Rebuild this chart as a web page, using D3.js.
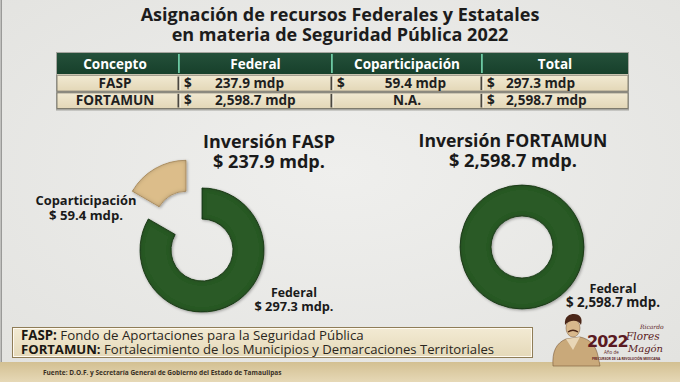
<!DOCTYPE html>
<html><head><meta charset="utf-8">
<script src="https://cdn.jsdelivr.net/npm/d3@7"></script>
<style>html,body{margin:0;padding:0;background:#e9e9e7;}svg{display:block;}</style>
</head><body>
<script>
// ---------- DATA ----------
const titleLines = ["Asignación de recursos Federales y Estatales", "en materia de Seguridad Pública 2022"];
const tableHeaders = ["Concepto", "Federal", "Coparticipación", "Total"];
const concepts = ["FASP", "FORTAMUN"];
const federalCol = ["237.9 mdp", "2,598.7 mdp"];
const copartCol = ["59.4 mdp", "N.A."];
const totalCol = ["297.3 mdp", "2,598.7 mdp"];
const faspParts = ["Federal", "Coparticipación"];
const faspValues = [297.3, 59.4];
const faspLabels = [["Federal", "$ 297.3 mdp."], ["Coparticipación", "$ 59.4 mdp."]];
const fortamunParts = ["Federal"];
const fortamunValues = [2598.7];
const fortamunLabels = [["Federal", "$ 2,598.7  mdp."]];
const donutTitles = [["Inversión FASP", "$ 237.9 mdp."], ["Inversión FORTAMUN", "$ 2,598.7 mdp."]];
const legendItems = [["FASP:", " Fondo de Aportaciones para la Seguridad Pública"],
                     ["FORTAMUN:", " Fortalecimiento de los Municipios y Demarcaciones Territoriales"]];
const sourceText = "Fuente: D.O.F. y Secretaría General de Gobierno del Estado de Tamaulipas";

// ---------- SETUP ----------
const W = 680, H = 382;
const FONT = "'Open Sans', 'Noto Sans', sans-serif";
const svg = d3.select("body").append("svg").attr("width", W).attr("height", H)
  .style("font-family", FONT);
const defs = svg.append("defs");

const bg = defs.append("radialGradient").attr("id", "bg").attr("cx", "50%").attr("cy", "45%").attr("r", "70%");
bg.append("stop").attr("offset", "0%").attr("stop-color", "#efefed");
bg.append("stop").attr("offset", "100%").attr("stop-color", "#e3e3e0");
svg.append("rect").attr("width", W).attr("height", H).attr("fill", "url(#bg)");
svg.append("rect").attr("x", 0.5).attr("y", 0).attr("width", 1.5).attr("height", H).attr("fill", "#9a9a98");

// bevel filter
const f = defs.append("filter").attr("id", "bevel").attr("x", "-20%").attr("y", "-20%").attr("width", "140%").attr("height", "140%");
f.append("feGaussianBlur").attr("in", "SourceAlpha").attr("stdDeviation", 2.2).attr("result", "blur");
f.append("feComposite").attr("in", "SourceAlpha").attr("in2", "blur").attr("operator", "arithmetic")
  .attr("k2", 1).attr("k3", -1).attr("result", "edge");
f.append("feFlood").attr("flood-color", "#000").attr("flood-opacity", 0.55).attr("result", "col");
f.append("feComposite").attr("in", "col").attr("in2", "edge").attr("operator", "in").attr("result", "shadow");
f.append("feGaussianBlur").attr("in", "SourceAlpha").attr("stdDeviation", 1.5).attr("result", "ds");
f.append("feOffset").attr("in", "ds").attr("dx", 0.5).attr("dy", 1).attr("result", "dso");
f.append("feComponentTransfer").attr("in", "dso").attr("result", "dsf")
  .append("feFuncA").attr("type", "linear").attr("slope", 0.35);
const fm = f.append("feMerge");
fm.append("feMergeNode").attr("in", "dsf");
fm.append("feMergeNode").attr("in", "SourceGraphic");
fm.append("feMergeNode").attr("in", "shadow");

function fit(sel, width) {
  const fs = parseFloat(sel.attr("font-size"));
  const w = sel.node().getComputedTextLength();
  if (w > 0) sel.attr("font-size", (fs * width / w).toFixed(2));
  return sel;
}

// multi-line text block: one <text>, one <tspan> per line
function block(x, y, lines, widths, fs, lh, opts) {
  opts = opts || {};
  const t = svg.append("text").attr("x", x).attr("y", y)
    .attr("text-anchor", opts.anchor || "middle").attr("font-weight", opts.weight || 700)
    .attr("fill", opts.fill || "#1a1a1a");
  lines.forEach((line, i) => {
    const ts = t.append("tspan").attr("x", x).attr("y", y + i * lh).attr("font-size", fs).text(line);
    if (widths) fit(ts, widths[i]);
  });
  return t;
}

// ---------- TITLE ----------
block(340, 21, titleLines, [399, 337], 17, 20, { fill: "#1c1c1c" });

// ---------- TABLE ----------
const colEdges = [57, 179, 332, 482, 628];
const xCol = d3.scaleOrdinal().domain(tableHeaders).range(colEdges.slice(0, 4));
const hdrTop = 53, hdrH = 21;
const rowY = d3.scaleBand().domain(concepts).range([75.5, 108.5]).paddingInner(0.1);
const tg = svg.append("g");
const hg = defs.append("linearGradient").attr("id", "hdr").attr("x1", 0).attr("x2", 0).attr("y1", 0).attr("y2", 1);
hg.append("stop").attr("offset", "0%").attr("stop-color", "#24503a");
hg.append("stop").attr("offset", "100%").attr("stop-color", "#17402b");
tg.append("rect").attr("x", colEdges[0] - 1).attr("y", hdrTop - 1).attr("width", colEdges[4] - colEdges[0] + 2)
  .attr("height", 108.5 - hdrTop + 3).attr("fill", "#7a7a72").attr("opacity", 0.6);
tg.append("rect").attr("x", colEdges[0]).attr("y", hdrTop).attr("width", colEdges[4] - colEdges[0])
  .attr("height", hdrH).attr("fill", "url(#hdr)");
const rg = defs.append("linearGradient").attr("id", "rowg").attr("x1", 0).attr("x2", 0).attr("y1", 0).attr("y2", 1);
rg.append("stop").attr("offset", "0%").attr("stop-color", "#f1e9d2");
rg.append("stop").attr("offset", "100%").attr("stop-color", "#e3d7b7");
concepts.forEach(c => {
  tg.append("rect").attr("x", colEdges[0]).attr("y", rowY(c)).attr("width", colEdges[4] - colEdges[0])
    .attr("height", rowY.bandwidth()).attr("fill", "url(#rowg)").attr("stroke", "#6d6a5e").attr("stroke-width", 0.8);
});
tg.append("rect").attr("x", colEdges[0]).attr("y", hdrTop + hdrH).attr("width", colEdges[4] - colEdges[0])
  .attr("height", 75.5 - hdrTop - hdrH).attr("fill", "#c9c3b0");
colEdges.slice(1, 4).forEach(x => {
  tg.append("rect").attr("x", x - 1).attr("y", hdrTop + 1).attr("width", 1.8).attr("height", hdrH - 2).attr("fill", "#6cc8a2");
  concepts.forEach(c => {
    tg.append("rect").attr("x", x - 1.5).attr("y", rowY(c) + 1).attr("width", 2).attr("height", rowY.bandwidth() - 2).attr("fill", "#4a4740");
    tg.append("rect").attr("x", x + 0.5).attr("y", rowY(c) + 1).attr("width", 1).attr("height", rowY.bandwidth() - 2).attr("fill", "#fbf7ea");
  });
});
tableHeaders.forEach((h, i) => {
  const cx = (colEdges[i] + colEdges[i + 1]) / 2 + (i === 0 ? -3 : 0);
  tg.append("text").attr("x", cx).attr("y", 68.5).attr("text-anchor", "middle").attr("font-size", 13.5)
    .attr("font-weight", 700).attr("fill", "#ffffff").text(h);
});
const cellFS = 13.6, cellColor = "#1f1f1f";
concepts.forEach((c, r) => {
  const by = rowY(c) + rowY.bandwidth() / 2 + 4.7;
  const cell = (x, t, anchor) => tg.append("text").attr("x", x).attr("y", by).attr("text-anchor", anchor || "start")
    .attr("font-size", cellFS).attr("font-weight", 700).attr("fill", cellColor).text(t);
  cell((colEdges[0] + colEdges[1]) / 2 - 3, c, "middle");
  cell(xCol("Federal") + 5, "$");
  cell(xCol("Federal") + 36, federalCol[r]);
  if (copartCol[r] === "N.A.") {
    cell((colEdges[2] + colEdges[3]) / 2, copartCol[r], "middle");
  } else {
    cell(xCol("Coparticipación") + 5, "$");
    cell(colEdges[3] - 36, copartCol[r], "end");
  }
  cell(xCol("Total") + 5, "$");
  cell(xCol("Total") + 24, totalCol[r]);
});

// ---------- DONUTS ----------
const rInner = 31, rOuter = 62;
const pie = d3.pie().sort(null).startAngle(0).endAngle(2 * Math.PI);
const arc = d3.arc().innerRadius(rInner).outerRadius(rOuter);
const color = d3.scaleOrdinal().domain(["Federal", "Coparticipación"]).range(["#2c5a28", "#dcbd8a"]);

function donut(cx, cy, parts, values, explode) {
  const g = svg.append("g").attr("transform", `translate(${cx},${cy})`);
  const arcs = pie(values);
  g.selectAll("path").data(arcs).join("path")
    .attr("transform", d => {
      const e = explode[d.index] || 0;
      const a = (d.startAngle + d.endAngle) / 2;
      return `translate(${e * Math.sin(a)},${-e * Math.cos(a)})`;
    })
    .attr("d", arc)
    .attr("fill", d => color(parts[d.index]))
    .attr("stroke", d => parts[d.index] === "Federal" ? "#1b3818" : "#b59566")
    .attr("stroke-width", 0.8)
    .attr("filter", "url(#bevel)");
}
donut(202, 250, faspParts, faspValues, [0, 32]);
donut(522, 247, fortamunParts, fortamunValues, [0]);

block(269, 148, donutTitles[0], [132, 112], 18, 19.5);
block(513, 147, donutTitles[1], [189, 128], 18, 20);
block(86, 205, faspLabels[1], [101, 74], 13, 15);
block(294, 297, faspLabels[0], [46, 79], 13, 14);
block(613, 293, fortamunLabels[0], [47, 94], 13, 14);

// ---------- FOOTER ----------
const band = defs.append("linearGradient").attr("id", "band").attr("x1", 0).attr("x2", 0).attr("y1", 0).attr("y2", 1);
band.append("stop").attr("offset", "0%").attr("stop-color", "#d3c092");
band.append("stop").attr("offset", "100%").attr("stop-color", "#e6d8b6");
svg.append("rect").attr("x", 0).attr("y", 362).attr("width", W).attr("height", 20).attr("fill", "url(#band)");
const fsrc = svg.append("text").attr("x", 43).attr("y", 375).attr("font-size", 8).attr("font-weight", 700)
  .attr("fill", "#3a3126").text(sourceText);
fit(fsrc, 239);

const lb = defs.append("linearGradient").attr("id", "lbox").attr("x1", 0).attr("x2", 0).attr("y1", 0).attr("y2", 1);
lb.append("stop").attr("offset", "0%").attr("stop-color", "#f2ead3");
lb.append("stop").attr("offset", "100%").attr("stop-color", "#e5d9b9");
svg.append("rect").attr("x", 12).attr("y", 327).attr("width", 521).attr("height", 31)
  .attr("fill", "#8f7d57");
svg.append("rect").attr("x", 13.5).attr("y", 328.5).attr("width", 518).attr("height", 28)
  .attr("fill", "url(#lbox)").attr("stroke", "#fffaf0").attr("stroke-width", 1);
const legW = [343, 473];
const legText = svg.append("text").attr("x", 21).attr("y", 340).attr("fill", "#2a2620");
legendItems.forEach((it, i) => {
  const fsz = 13;
  const a = legText.append("tspan").attr("x", 21).attr("y", 340 + i * 13.5).attr("font-size", fsz)
    .attr("font-weight", 700).attr("fill", "#1a1712").text(it[0]);
  const b = legText.append("tspan").attr("font-size", fsz).attr("font-weight", 400).text(it[1]);
  const w = a.node().getComputedTextLength() + b.node().getComputedTextLength();
  const s = (fsz * legW[i] / w).toFixed(2);
  a.attr("font-size", s); b.attr("font-size", s);
});

// ---------- LOGO ----------
const lg = svg.append("g");
lg.append("path").attr("d", "M553,366 C552,352 556,343 566,339 L580,337 C590,339 596,346 598,356 L600,366 Z")
  .attr("fill", "#c9a97a").attr("stroke", "#7a5a3a").attr("stroke-width", 0.6);
lg.append("path").attr("d", "M566,339 L573,350 L580,337 Z").attr("fill", "#e8d6b6");
lg.append("ellipse").attr("cx", 573).attr("cy", 328).attr("rx", 7).attr("ry", 9).attr("fill", "#d8b88c").attr("stroke", "#7a5a3a").attr("stroke-width", 0.5);
lg.append("path").attr("d", "M565,325 C564,316 570,314 574,314 C580,314 583,318 581,325 C579,320 570,319 565,325 Z").attr("fill", "#4a2618");
lg.append("path").attr("d", "M568,332 C571,330 575,330 578,332").attr("stroke", "#4a2618").attr("stroke-width", 1.5).attr("fill", "none");
const logoT = lg.append("text").attr("fill", "#5a1a22");
logoT.append("tspan").attr("x", 587).attr("y", 347).attr("font-size", 16).attr("font-weight", 800)
  .attr("font-family", "'DejaVu Sans', sans-serif").attr("letter-spacing", -1).text("2022");
logoT.append("tspan").attr("x", 640).attr("y", 329).attr("font-size", 6).attr("font-style", "italic")
  .attr("font-family", "'DejaVu Serif', serif").text("Ricardo");
logoT.append("tspan").attr("x", 626).attr("y", 340).attr("font-size", 10.5).attr("font-style", "italic")
  .attr("font-family", "'DejaVu Serif', serif").text("Flores");
logoT.append("tspan").attr("x", 604).attr("y", 354).attr("font-size", 4.5).text("Año de");
logoT.append("tspan").attr("x", 628).attr("y", 352).attr("font-size", 10).attr("font-style", "italic")
  .attr("font-family", "'DejaVu Serif', serif").text("Magón");
logoT.append("tspan").attr("x", 592).attr("y", 359.5).attr("font-size", 3.2).attr("font-weight", 700)
  .text("PRECURSOR DE LA REVOLUCIÓN MEXICANA");
</script>
</body></html>
